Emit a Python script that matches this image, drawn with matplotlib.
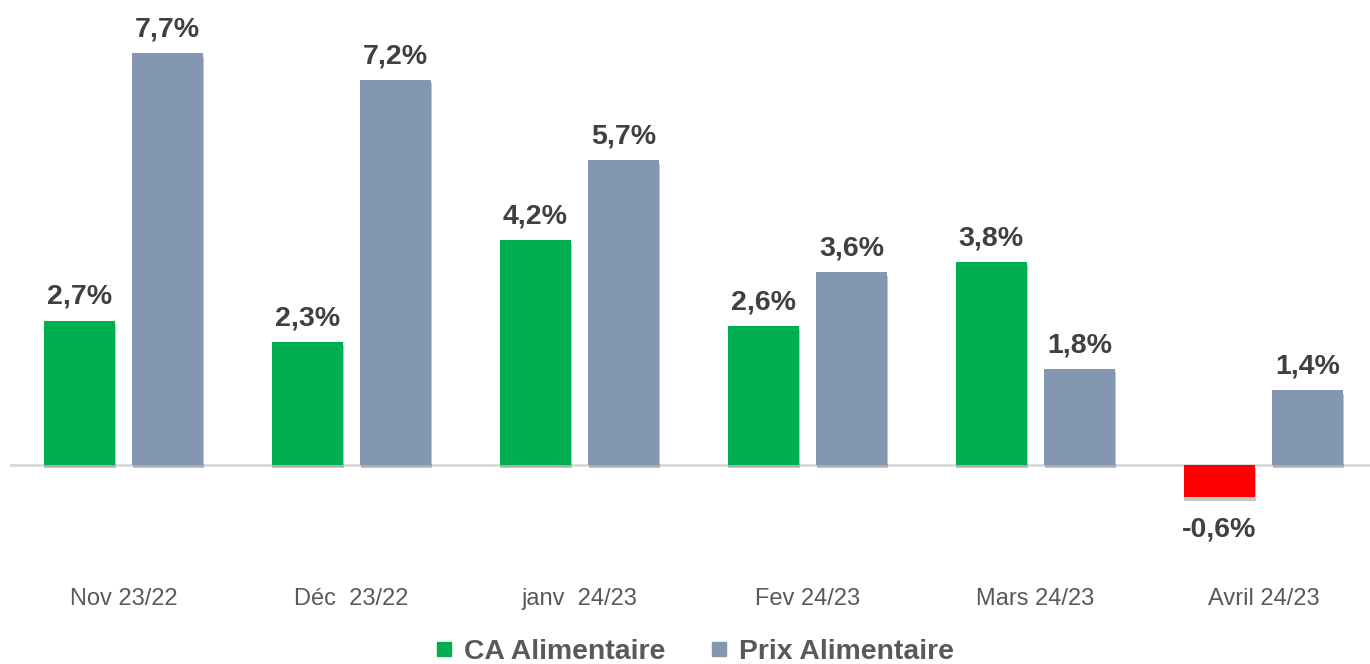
import numpy as np
import matplotlib
matplotlib.use('Agg')
import matplotlib.pyplot as plt
import matplotlib.patheffects as pe
from matplotlib.lines import Line2D

plt.rcParams['font.family'] = ['Liberation Sans', 'DejaVu Sans']

mois = ['Nov 23/22', 'Déc  23/22', 'janv  24/23', 'Fev 24/23', 'Mars 24/23', 'Avril 24/23']
ca_alim = [2.7, 2.3, 4.2, 2.6, 3.8, -0.6]
prix_alim = [7.7, 7.2, 5.7, 3.6, 1.8, 1.4]

vert = '#00B050'
gris = '#8497B0'
rouge = '#FF0000'
texte = '#404040'

fig = plt.figure(figsize=(13.7, 6.64), dpi=100)
ax = fig.add_axes([9.5/1370, 104/664, 1368/1370, 550/664])

x = np.arange(len(mois))
w = 0.313
d = 0.194
ombre = [pe.SimplePatchShadow(offset=(0.5, -2.5), shadow_rgbFace='#444444', alpha=0.3), pe.Normal()]

couleurs_ca = [vert if v >= 0 else rouge for v in ca_alim]
b1 = ax.bar(x - d, ca_alim, width=w, color=couleurs_ca, zorder=3)
b2 = ax.bar(x + d, prix_alim, width=w, color=gris, zorder=3)
for b in list(b1) + list(b2):
    b.set_path_effects(ombre)

ax.axhline(0, color='#d9d9d9', lw=2, zorder=2)

for xi, v in zip(list(x - d) + list(x + d), ca_alim + prix_alim):
    txt = ('%.1f%%' % v).replace('.', ',')
    if v >= 0:
        ax.annotate(txt, (xi, v), xytext=(0, 12), textcoords='offset points',
                    ha='center', va='baseline', fontsize=20.5, fontweight='bold', color=texte)
    else:
        ax.annotate(txt, (xi, v), xytext=(0, -14), textcoords='offset points',
                    ha='center', va='top', fontsize=20.5, fontweight='bold', color=texte)

ax.set_xlim(-0.5, 5.5)
ax.set_ylim(-1.776, 8.505)
ax.set_xticks(x)
ax.set_xticklabels(mois, fontsize=17, color='#595959')
ax.tick_params(axis='x', length=0, pad=20)
ax.set_yticks([])
for s in ax.spines.values():
    s.set_visible(False)

handles = [Line2D([], [], marker='s', ls='none', ms=9.5, color=vert),
           Line2D([], [], marker='s', ls='none', ms=9.5, color=gris)]
leg = fig.legend(handles, ['CA Alimentaire', 'Prix Alimentaire'], loc='center',
                 bbox_to_anchor=(0.507, 0.018), ncol=2, frameon=False,
                 prop={'size': 20.4, 'weight': 'bold'}, handlelength=0.6,
                 handletextpad=0.4, columnspacing=1.6, borderpad=0)
for t in leg.get_texts():
    t.set_color('#595959')

fig.savefig('out.png', dpi=100)
